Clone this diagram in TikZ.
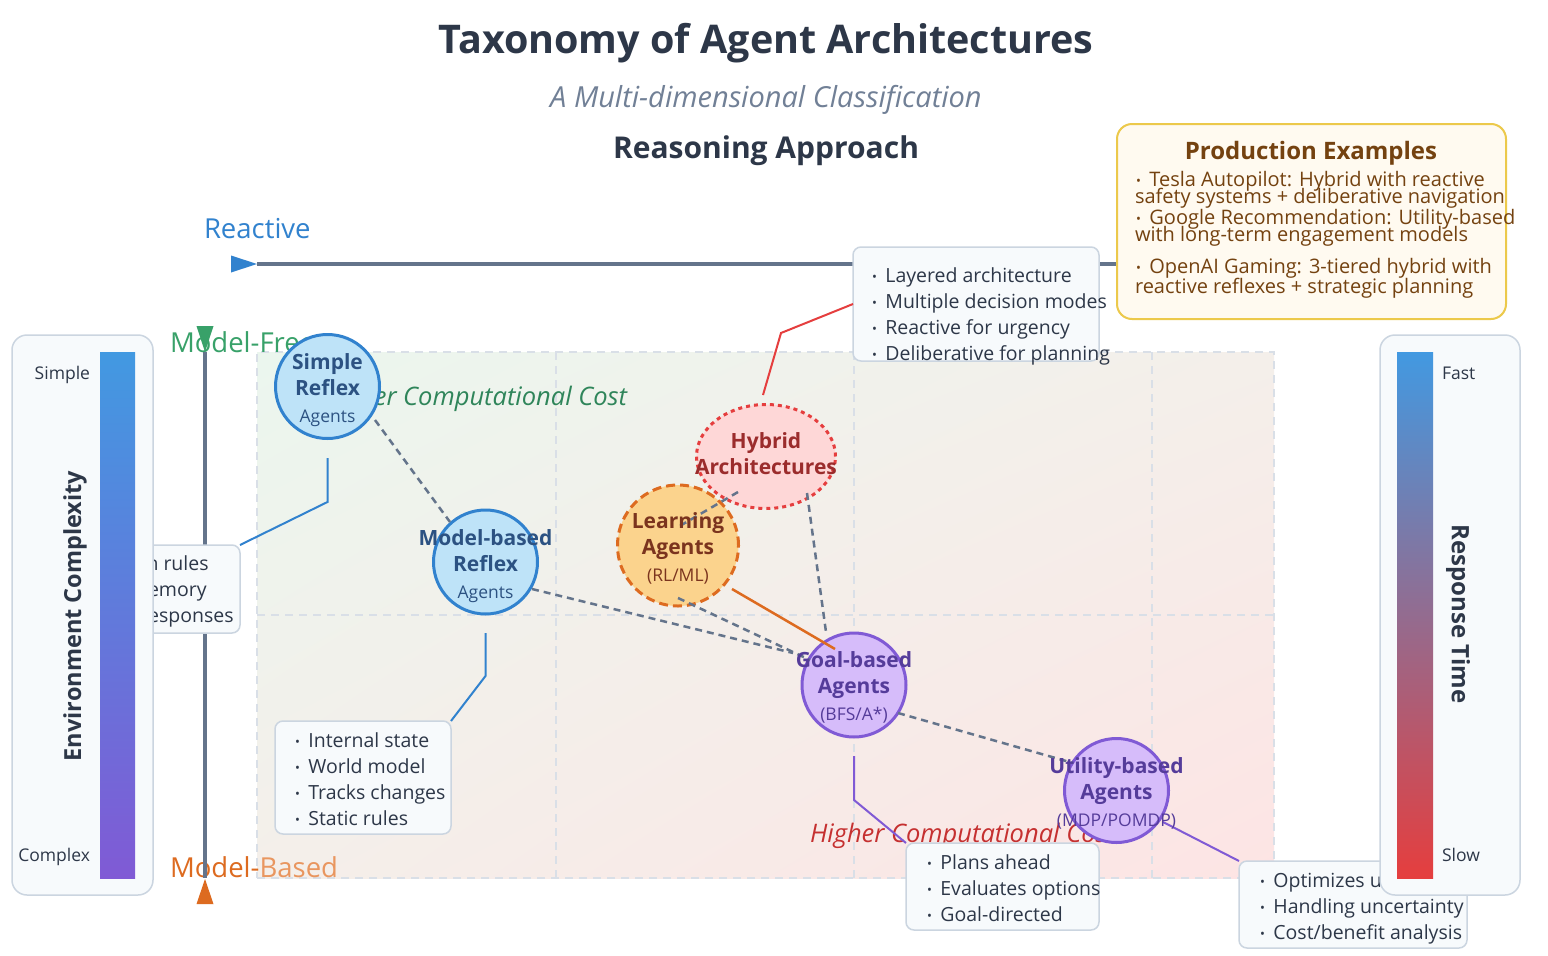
\documentclass[tikz,border=0pt]{standalone}
\usepackage{fontspec}
\setmainfont{Open Sans}
\usetikzlibrary{calc,shapes.geometric,shadings}
\definecolor{dark}{HTML}{2D3748}
\definecolor{sub}{HTML}{718096}
\definecolor{slate}{HTML}{64748B}
\definecolor{reactBlue}{HTML}{3182CE}
\definecolor{freeGreen}{HTML}{38A169}
\definecolor{lowGreen}{HTML}{2F855A}
\definecolor{basedOrange}{HTML}{DD6B20}
\definecolor{basedLight}{HTML}{E9965F}
\definecolor{highRed}{HTML}{C53030}
\definecolor{blueFill}{HTML}{BEE3F8}
\definecolor{blueLine}{HTML}{3182CE}
\definecolor{blueText}{HTML}{2C5282}
\definecolor{orFill}{HTML}{FBD38D}
\definecolor{orLine}{HTML}{DD6B20}
\definecolor{orText}{HTML}{7B341E}
\definecolor{hyFill}{HTML}{FED7D7}
\definecolor{hyLine}{HTML}{E53E3E}
\definecolor{hyText}{HTML}{9B2C2C}
\definecolor{puFill}{HTML}{D6BCFA}
\definecolor{puLine}{HTML}{805AD5}
\definecolor{puText}{HTML}{553C9A}
\definecolor{boxFill}{HTML}{F7FAFC}
\definecolor{boxLine}{HTML}{CBD5E0}
\definecolor{peFill}{HTML}{FFFAF0}
\definecolor{peLine}{HTML}{ECC94B}
\definecolor{peText}{HTML}{744210}
\definecolor{gridLine}{HTML}{D9DFE7}
\definecolor{gA}{HTML}{EBF6EE}
\definecolor{gM}{HTML}{F4EFEA}
\definecolor{gB}{HTML}{FDE4E4}
\definecolor{barBlue}{HTML}{4299E1}
\definecolor{barPurple}{HTML}{805AD5}
\definecolor{barRed}{HTML}{E53E3E}
\newcommand\fsz[2]{\fontsize{#1}{#2}\selectfont}
\newcommand\blt{{\fsz{13}{13}\raisebox{1pt}{•}}\hspace{8.5pt}}
\newcommand\stk[2]{\begin{tabular}[t]{@{}#1@{}}#2\end{tabular}}
\begin{document}
\begin{tikzpicture}[x=1pt,y=-1pt,
  txt/.style={inner sep=0pt, outer sep=0pt},
  agent/.style={circle, line width=3pt, inner sep=0pt, outer sep=0pt, minimum size=104pt},
  dconn/.style={draw=slate, line width=2.5pt, dash pattern=on 7pt off 5pt},
  leadline/.style={line width=2pt},
  dbox/.style={draw=boxLine, fill=boxFill, rounded corners=8pt, line width=1.5pt, anchor=north west, inner sep=0pt, outer sep=0pt},
  dtext/.style={txt, anchor=base west, text=dark, font=\fsz{19.5}{26.3}},
  panel/.style={draw=boxLine, fill=boxFill, rounded corners=15pt, line width=1.5pt, anchor=north west, inner sep=0pt, outer sep=0pt},
  axisl/.style={draw=slate, line width=4pt},
  gridl/.style={draw=gridLine, line width=1.5pt, dash pattern=on 8pt off 6pt},
  ctext/.style={txt, anchor=base, font=\fsz{21}{26.5}},
  petext/.style={txt, anchor=base west, font=\fsz{20}{22}, text=peText},
  bar/.style={anchor=north west, inner sep=0pt, outer sep=0pt},
]
\fill[white] (0,0) rectangle (1548,956);
\useasboundingbox (0,0) rectangle (1548,956);

% titles
\node[txt, anchor=base, font=\fsz{39.5}{44}\bfseries, text=dark] (title) at (766,53) {Taxonomy of Agent Architectures};
\node[txt, anchor=base, font=\fsz{29}{32}\itshape, text=sub] (subtitle) at (766,107) {A Multi-dimensional Classification};
\node[txt, anchor=base, font=\fsz{30}{34}\bfseries, text=dark] (reason) at (766,158) {Reasoning Approach};

% grid
\node[anchor=north west, minimum width=1017pt, minimum height=526pt, inner sep=0pt, outer sep=0pt,
  upper left=gA, upper right=gM, lower left=gM, lower right=gB,
  draw=gridLine, line width=1.5pt, dash pattern=on 8pt off 6pt] (grid) at (257,352) {};
\draw[gridl] (556,352) -- (556,878);
\draw[gridl] (854,352) -- (854,878);
\draw[gridl] (1152,352) -- (1152,878);
\draw[gridl] (257,615) -- (1274,615);

% axis labels
\node[txt, anchor=base west, font=\fsz{27.5}{30}, text=reactBlue] (reactive) at (204,238) {Reactive};
\node[txt, anchor=base west, font=\fsz{27.5}{30}, text=freeGreen] (mfree) at (170,352) {Model-Free};
\node[txt, anchor=base west, font=\fsz{27.5}{30}] (mbased) at (170,877) {\textcolor{basedOrange}{Model-}\textcolor{basedLight}{Based}};

% axes
\coordinate (hx0) at (257,264);
\coordinate (hx1) at (1300,264);
\draw[axisl] (hx0) -- (hx1);
\fill[reactBlue] (231,255.5) -- (hx0) -- (231,272.5) -- cycle;
\coordinate (vy0) at (205,352);
\coordinate (vy1) at (205,878);
\draw[axisl] (vy0) -- (vy1);
\fill[freeGreen] (196.5,326) -- (213.5,326) -- (vy0) -- cycle;
\fill[basedOrange] (196.5,904) -- (213.5,904) -- (205,879) -- cycle;

% cost labels
\node[txt, anchor=base west, font=\fsz{25.5}{28}\itshape, text=lowGreen] (lowcost) at (329,405) {Lower Computational Cost};
\node[txt, anchor=base west, font=\fsz{25.5}{28}\itshape, text=highRed] (highcost) at (810,842) {Higher Computational Cost};

% detail boxes
\node[dbox, minimum width=175pt, minimum height=88pt] (srbox) at (65,545) {};
\node[dtext] (srtext) at (85,570) {\stk{l}{\blt If-then rules\\\blt No memory\\\blt Fast responses}};
\node[dbox, minimum width=176pt, minimum height=113pt] (mbbox) at (275,721) {};
\node[dtext] (mbtext) at (295,747) {\stk{l}{\blt Internal state\\\blt World model\\\blt Tracks changes\\\blt Static rules}};
\node[dbox, minimum width=246pt, minimum height=114pt] (hybox) at (853,247) {};
\node[dtext] (hytext) at (872,282) {\stk{l}{\blt Layered architecture\\\blt Multiple decision modes\\\blt Reactive for urgency\\\blt Deliberative for planning}};
\node[dbox, minimum width=193pt, minimum height=87pt] (gbbox) at (906,843) {};
\node[dtext] (gbtext) at (927,869) {\stk{l}{\blt Plans ahead\\\blt Evaluates options\\\blt Goal-directed}};
\node[dbox, minimum width=228pt, minimum height=87pt] (ubbox) at (1239,861) {};
\node[dtext] (ubtext) at (1260,887) {\stk{l}{\blt Optimizes utility\\\blt Handling uncertainty\\\blt Cost/benefit analysis}};

% agent shapes
\node[agent, fill=blueFill, draw=blueLine] (sr) at (327.5,386.5) {};
\node[agent, fill=blueFill, draw=blueLine] (mb) at (485.5,562) {};
\node[agent, minimum size=121pt, fill=orFill, draw=orLine, dash pattern=on 9pt off 5pt] (la) at (678,545.5) {};
\node[ellipse, minimum width=139pt, minimum height=104pt, line width=3pt, inner sep=0pt, outer sep=0pt, fill=hyFill, draw=hyLine, dash pattern=on 4pt off 4pt] (hy) at (766,456.5) {};
\node[agent, fill=puFill, draw=puLine] (gb) at (854,685) {};
\node[agent, fill=puFill, draw=puLine] (ub) at (1116.5,790.5) {};

% leader lines
\coordinate (srb) at (327.5,502);
\coordinate (mbb) at (485.5,676);
\coordinate (hyb) at (781,333);
\coordinate (gbb) at (854,800);
\draw[leadline, draw=blueLine] ($(sr)+(0,71.5)$) -- (srb) -- (srbox.north east);
\draw[leadline, draw=blueLine] ($(mb)+(0,71)$) -- (mbb) -- (mbbox.north east);
\draw[leadline, draw=hyLine] ($(hy)+(-3,-61.5)$) -- (hyb) -- (hybox.west);
\draw[leadline, draw=puLine] ($(gb)+(0,71)$) -- (gbb) -- (gbbox.north west);
\draw[leadline, draw=puLine] ($(ub)+(46.5,31.5)$) -- (ubbox.north west);

% relation connectors
\draw[dconn] ($(sr)+(47.5,33.5)$) -- ($(mb)+(-35.5,-40)$);
\draw[dconn] ($(mb)+(46.5,27)$) -- ($(gb)+(-61,-32)$);
\draw[dconn] ($(la)+(0,52.5)$) -- ($(gb)+(-44,-25)$);
\draw[dconn] ($(hy)+(-28,35.5)$) -- ($(la)+(0,-18.5)$);
\draw[dconn] ($(hy)+(41,36.5)$) -- ($(gb)+(-28,-53)$);
\draw[dconn] ($(gb)+(44,28)$) -- ($(ub)+(-43.5,-27.5)$);
\draw[line width=2.5pt, draw=orLine] ($(la)+(54,43.5)$) -- ($(gb)+(-19,-36)$);

% agent labels
\node[ctext, text=blueText] (srt) at ($(sr)+(0,-17.5)$) {\stk{c}{\bfseries Simple\\\bfseries Reflex\\\fsz{17.5}{26.5}Agents}};
\node[ctext, text=blueText] (mbt) at ($(mb)+(0,-17)$) {\stk{c}{\bfseries Model-based\\\bfseries Reflex\\\fsz{17.5}{26.5}Agents}};
\node[ctext, text=orText] (lat) at ($(la)+(0,-17.5)$) {\stk{c}{\bfseries Learning\\\bfseries Agents\\\fsz{17.5}{26.5}(RL/ML)}};
\node[ctext, text=hyText] (hyt) at ($(hy)+(0,-8.5)$) {\stk{c}{\bfseries Hybrid\\\bfseries Architectures}};
\node[ctext, text=puText] (gbt) at ($(gb)+(0,-18)$) {\stk{c}{\bfseries Goal-based\\\bfseries Agents\\\fsz{17.5}{26.5}(BFS/A*)}};
\node[ctext, text=puText] (ubt) at ($(ub)+(0,-17.5)$) {\stk{c}{\bfseries Utility-based\\\bfseries Agents\\\fsz{17.5}{26.5}(MDP/POMDP)}};

% production examples
\node[anchor=north west, minimum width=389pt, minimum height=195pt, draw=peLine, fill=peFill, rounded corners=15pt, line width=2pt, inner sep=0pt, outer sep=0pt] (pebox) at (1117,124) {};
\node[txt, anchor=base, font=\fsz{24}{28}\bfseries, text=peText] (petitle) at (1311,159) {Production Examples};
\node[petext] (pe1) at (1136,186) {\blt Tesla Autopilot: Hybrid with reactive};
\node[petext] (pe2) at (1135,203) {safety systems + deliberative navigation};
\node[petext] (pe3) at (1136,224) {\blt Google Recommendation: Utility-based};
\node[petext] (pe4) at (1135,241) {with long-term engagement models};
\node[petext] (pe5) at (1136,273) {\blt OpenAI Gaming: 3-tiered hybrid with};
\node[petext] (pe6) at (1135,293.5) {reactive reflexes + strategic planning};

% environment complexity panel
\node[panel, minimum width=141pt, minimum height=560pt] (envp) at (12,335) {};
\node[bar, minimum width=35pt, minimum height=526pt, top color=barBlue, bottom color=barPurple] (envbar) at (100,352) {};
\node[txt, anchor=base east, font=\fsz{17.5}{20}, text=dark] (esimple) at (90,379) {Simple};
\node[txt, anchor=base east, font=\fsz{17.5}{20}, text=dark] (ecomplex) at (90,861) {Complex};
\node[txt, rotate=90, font=\fsz{23.5}{26}\bfseries, text=dark] (etitle) at (75,616) {Environment Complexity};

% response time panel
\node[panel, minimum width=140pt, minimum height=560pt] (rtp) at (1380,335) {};
\node[bar, minimum width=36pt, minimum height=526pt, top color=barBlue, bottom color=barRed] (rtbar) at (1397,352) {};
\node[txt, anchor=base west, font=\fsz{17.5}{20}, text=dark] (rfast) at (1442,379) {Fast};
\node[txt, anchor=base west, font=\fsz{17.5}{20}, text=dark] (rslow) at (1442,861) {Slow};
\node[txt, rotate=-90, font=\fsz{24}{26}\bfseries, text=dark] (rtitle) at (1458,614) {Response Time};
\end{tikzpicture}
\end{document}
